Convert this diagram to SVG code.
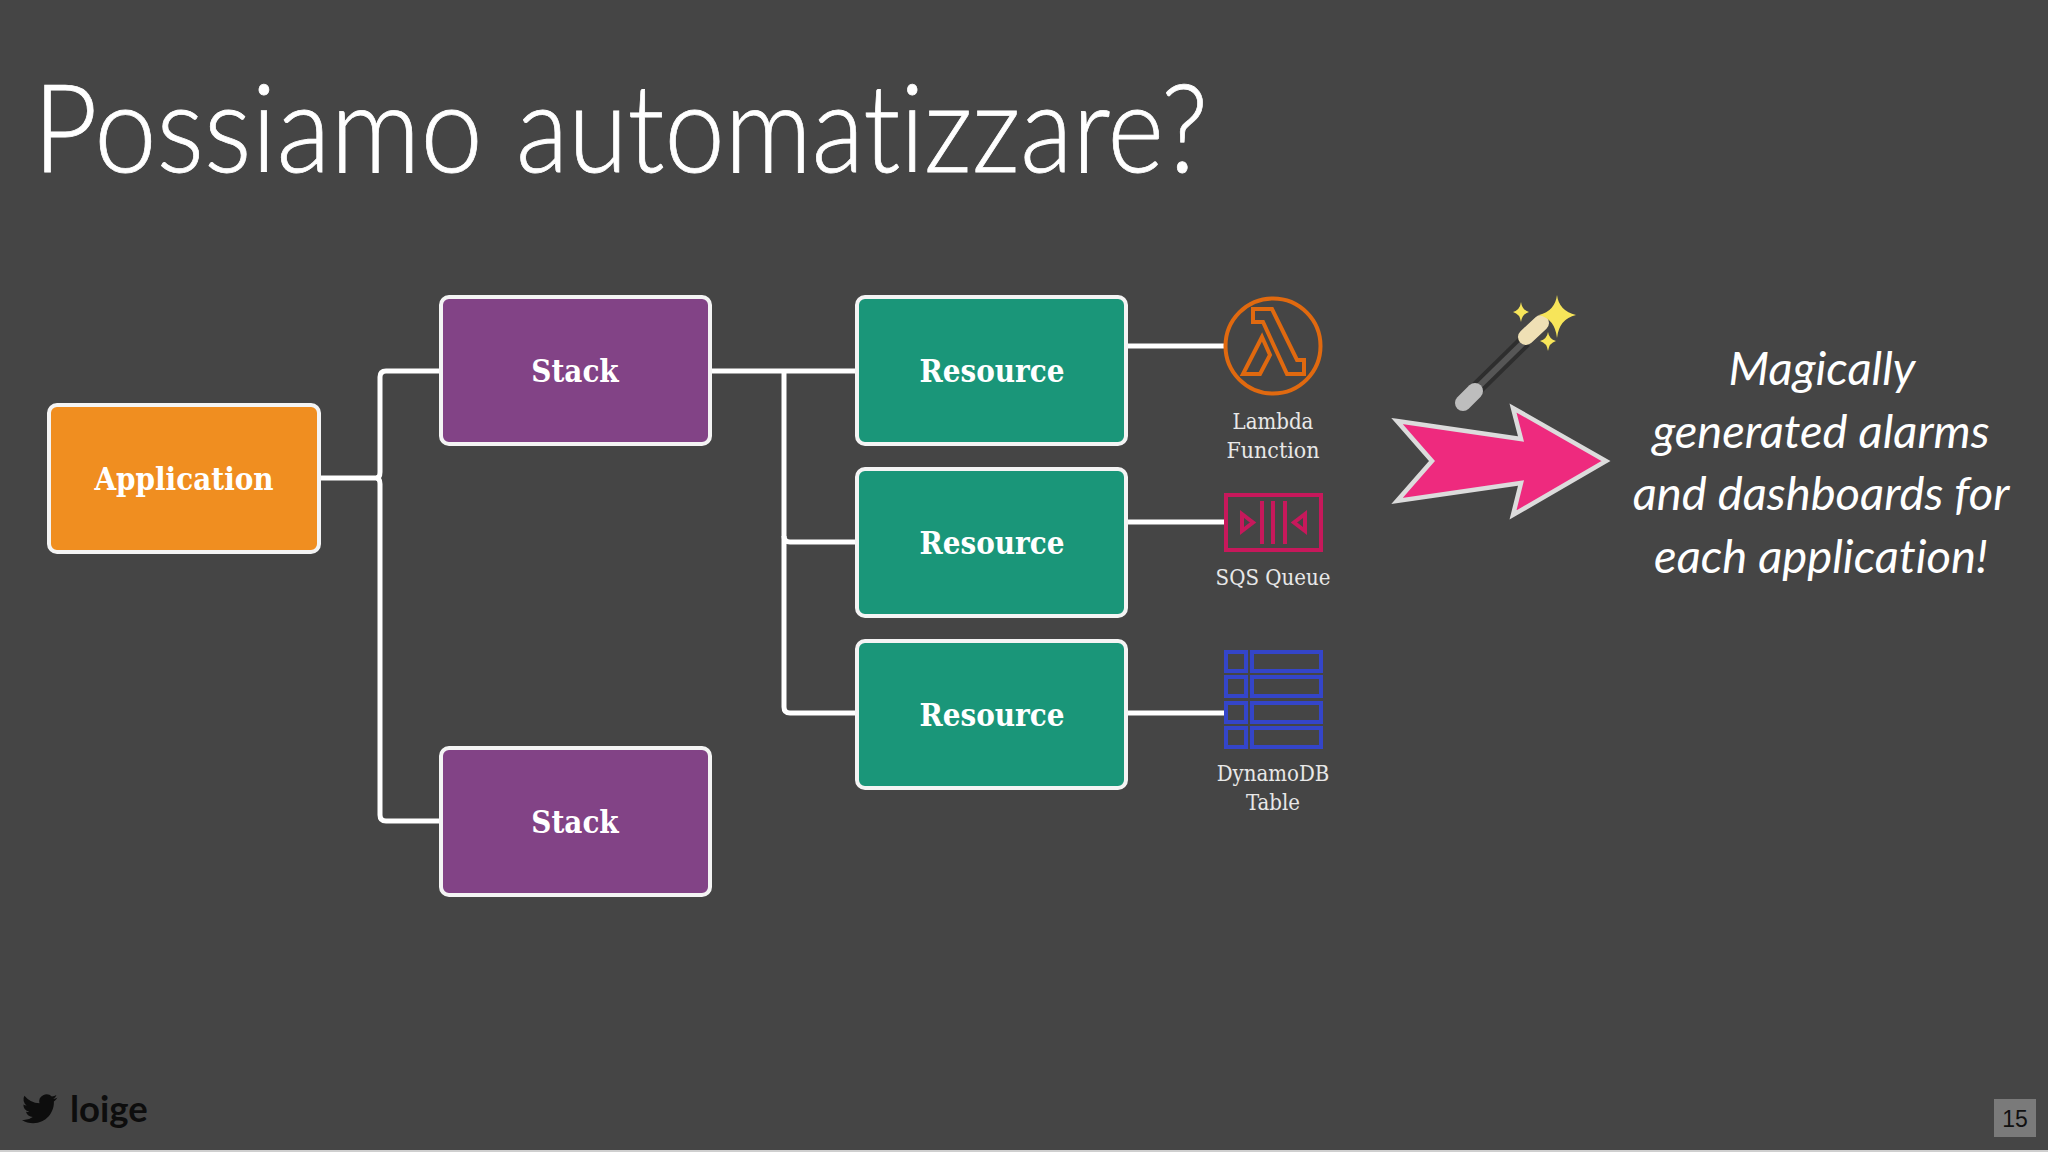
<svg xmlns="http://www.w3.org/2000/svg" width="2048" height="1152" viewBox="0 0 2048 1152">
<style>
text{font-variant-ligatures:none}
.box{stroke:#f4f4f4;stroke-width:4}
.lbl{font-family:"DejaVu Serif Condensed","DejaVu Serif",serif;font-weight:700;font-size:31px;fill:#fff;text-anchor:middle}
.cap{font-family:"DejaVu Serif Condensed","DejaVu Serif",serif;font-size:22px;fill:#e8e8e8;text-anchor:middle}
.conn{fill:none;stroke:#fff;stroke-width:5}
.ic{fill:none;stroke-width:4}
.magic{font-family:Lato,sans-serif;font-style:italic;font-size:47.2px;fill:#fff;text-anchor:middle}
</style>
<rect width="2048" height="1152" fill="#454545"/>
<rect y="1150" width="2048" height="2" fill="#cfcfcf"/>
<text id="title" y="172" font-family="Lato,sans-serif" font-weight="300" font-size="122" fill="#fff" stroke="#fff" stroke-width="0.8"><tspan x="33" textLength="450" lengthAdjust="spacingAndGlyphs">Possiamo</tspan><tspan x="516" textLength="692" lengthAdjust="spacingAndGlyphs">automatizzare?</tspan></text>
<g id="connectors" class="conn">
<path d="M319 478H380"/>
<path d="M440 371H386Q380 371 380 377V472Q380 478 376 478Q380 478 380 484V815Q380 821 386 821H440"/>
<path d="M711 371H856"/>
<path d="M784 371V536Q784 542 790 542H856"/>
<path d="M784 536V707Q784 713 790 713H856"/>
<path d="M1128 346H1225"/>
<path d="M1128 522H1225"/>
<path d="M1128 713H1225"/>
</g>
<g id="application"><rect class="box" x="49" y="405" width="270" height="147" rx="8" fill="#f08e20"/><text class="lbl" x="184" y="490">Application</text></g>
<g id="stack1"><rect class="box" x="441" y="297" width="269" height="147" rx="8" fill="#824386"/><text class="lbl" x="575" y="382">Stack</text></g>
<g id="stack2"><rect class="box" x="441" y="748" width="269" height="147" rx="8" fill="#824386"/><text class="lbl" x="575" y="833">Stack</text></g>
<g id="resource1"><rect class="box" x="857" y="297" width="269" height="147" rx="8" fill="#1a9679"/><text class="lbl" x="992" y="382">Resource</text></g>
<g id="resource2"><rect class="box" x="857" y="469" width="269" height="147" rx="8" fill="#1a9679"/><text class="lbl" x="992" y="554">Resource</text></g>
<g id="resource3"><rect class="box" x="857" y="641" width="269" height="147" rx="8" fill="#1a9679"/><text class="lbl" x="992" y="726">Resource</text></g>
<g id="lambda">
<circle class="ic" cx="1273" cy="346" r="47.5" stroke="#e0690f"/>
<path class="ic" stroke="#e0690f" d="M1253 309H1272L1297 360H1304V374H1287L1263 322H1253ZM1262 337L1270 355L1260 374H1243Z"/>
<text class="cap" x="1273" y="429">Lambda</text><text class="cap" x="1273" y="458" textLength="93" lengthAdjust="spacingAndGlyphs">Function</text>
</g>
<g id="sqs">
<rect class="ic" x="1226" y="495" width="95" height="55" stroke="#c7185b"/>
<path class="ic" stroke="#c7185b" d="M1262 501V544M1273 501V544M1285 501V544M1242 514L1253 522.5L1242 531ZM1305 514L1294 522.5L1305 531Z"/>
<text class="cap" x="1273" y="585">SQS Queue</text>
</g>
<g id="dynamodb">
<g class="ic" stroke="#3445c9">
<rect x="1226" y="652" width="20" height="19"/><rect x="1252" y="652" width="69" height="19"/>
<rect x="1226" y="677" width="20" height="19"/><rect x="1252" y="677" width="69" height="19"/>
<rect x="1226" y="703" width="20" height="19"/><rect x="1252" y="703" width="69" height="19"/>
<rect x="1226" y="728" width="20" height="19"/><rect x="1252" y="728" width="69" height="19"/>
</g>
<text class="cap" x="1273" y="781">DynamoDB</text><text class="cap" x="1273" y="810">Table</text>
</g>
<g id="wand">
<path d="M1474 391L1525 341" stroke="#2e2e2e" stroke-width="14"/>
<path d="M1477 388L1526 340" stroke="#565656" stroke-width="6"/>
<path d="M1463 403L1475 391" stroke="#bdbdbd" stroke-width="16" stroke-linecap="round"/>
<path d="M1526 337L1541 323" stroke="#efe0b5" stroke-width="16" stroke-linecap="round"/>
<path fill="#f7e55a" d="M1557 295Q1559 311 1576 315Q1559 319 1557 338Q1555 319 1539 315Q1555 311 1557 295ZM1521 302Q1522 310 1529 312Q1522 314 1521 322Q1520 314 1513 312Q1520 310 1521 302ZM1548 332Q1549 339 1556 341Q1549 343 1548 351Q1547 343 1540 341Q1547 339 1548 332Z"/>
</g>
<path id="arrow" d="M1397 421L1521 439L1513 408L1606 461L1513 515L1521 483L1397 501L1432 461Z" fill="#ee2a7e" stroke="#dcdcdc" stroke-width="4.5" stroke-linejoin="miter" stroke-miterlimit="5"/>
<g id="note" class="magic">
<text x="1822" y="385">Magically</text>
<text x="1821" y="448">generated alarms</text>
<text x="1821" y="510">and dashboards for</text>
<text x="1821" y="573">each application!</text>
</g>
<g id="footer">
<path transform="translate(22,1091) scale(1.48)" fill="#0d0d0d" d="M23.95 4.57a10 10 0 0 1-2.82.77 4.96 4.96 0 0 0 2.16-2.72 9.9 9.9 0 0 1-3.12 1.18 4.92 4.92 0 0 0-8.38 4.48A13.98 13.98 0 0 1 1.64 3.16a4.92 4.92 0 0 0 1.52 6.57 4.9 4.9 0 0 1-2.23-.61v.06a4.92 4.92 0 0 0 3.95 4.83 5 5 0 0 1-2.21.08 4.94 4.94 0 0 0 4.6 3.42A9.87 9.87 0 0 1 0 19.54a13.94 13.94 0 0 0 7.55 2.21c9.06 0 14-7.5 14-13.98q0-.32-.01-.64a9.94 9.94 0 0 0 2.41-2.56z"/>
<text x="70" y="1122" font-family="Lato,sans-serif" font-weight="700" font-size="36.5" fill="#0d0d0d">loige</text>
<rect x="1994" y="1099" width="42" height="38" fill="#7a7a7a"/>
<text x="2015" y="1127" font-family="Liberation Sans,sans-serif" font-size="23" fill="#111" text-anchor="middle">15</text>
</g>
</svg>
